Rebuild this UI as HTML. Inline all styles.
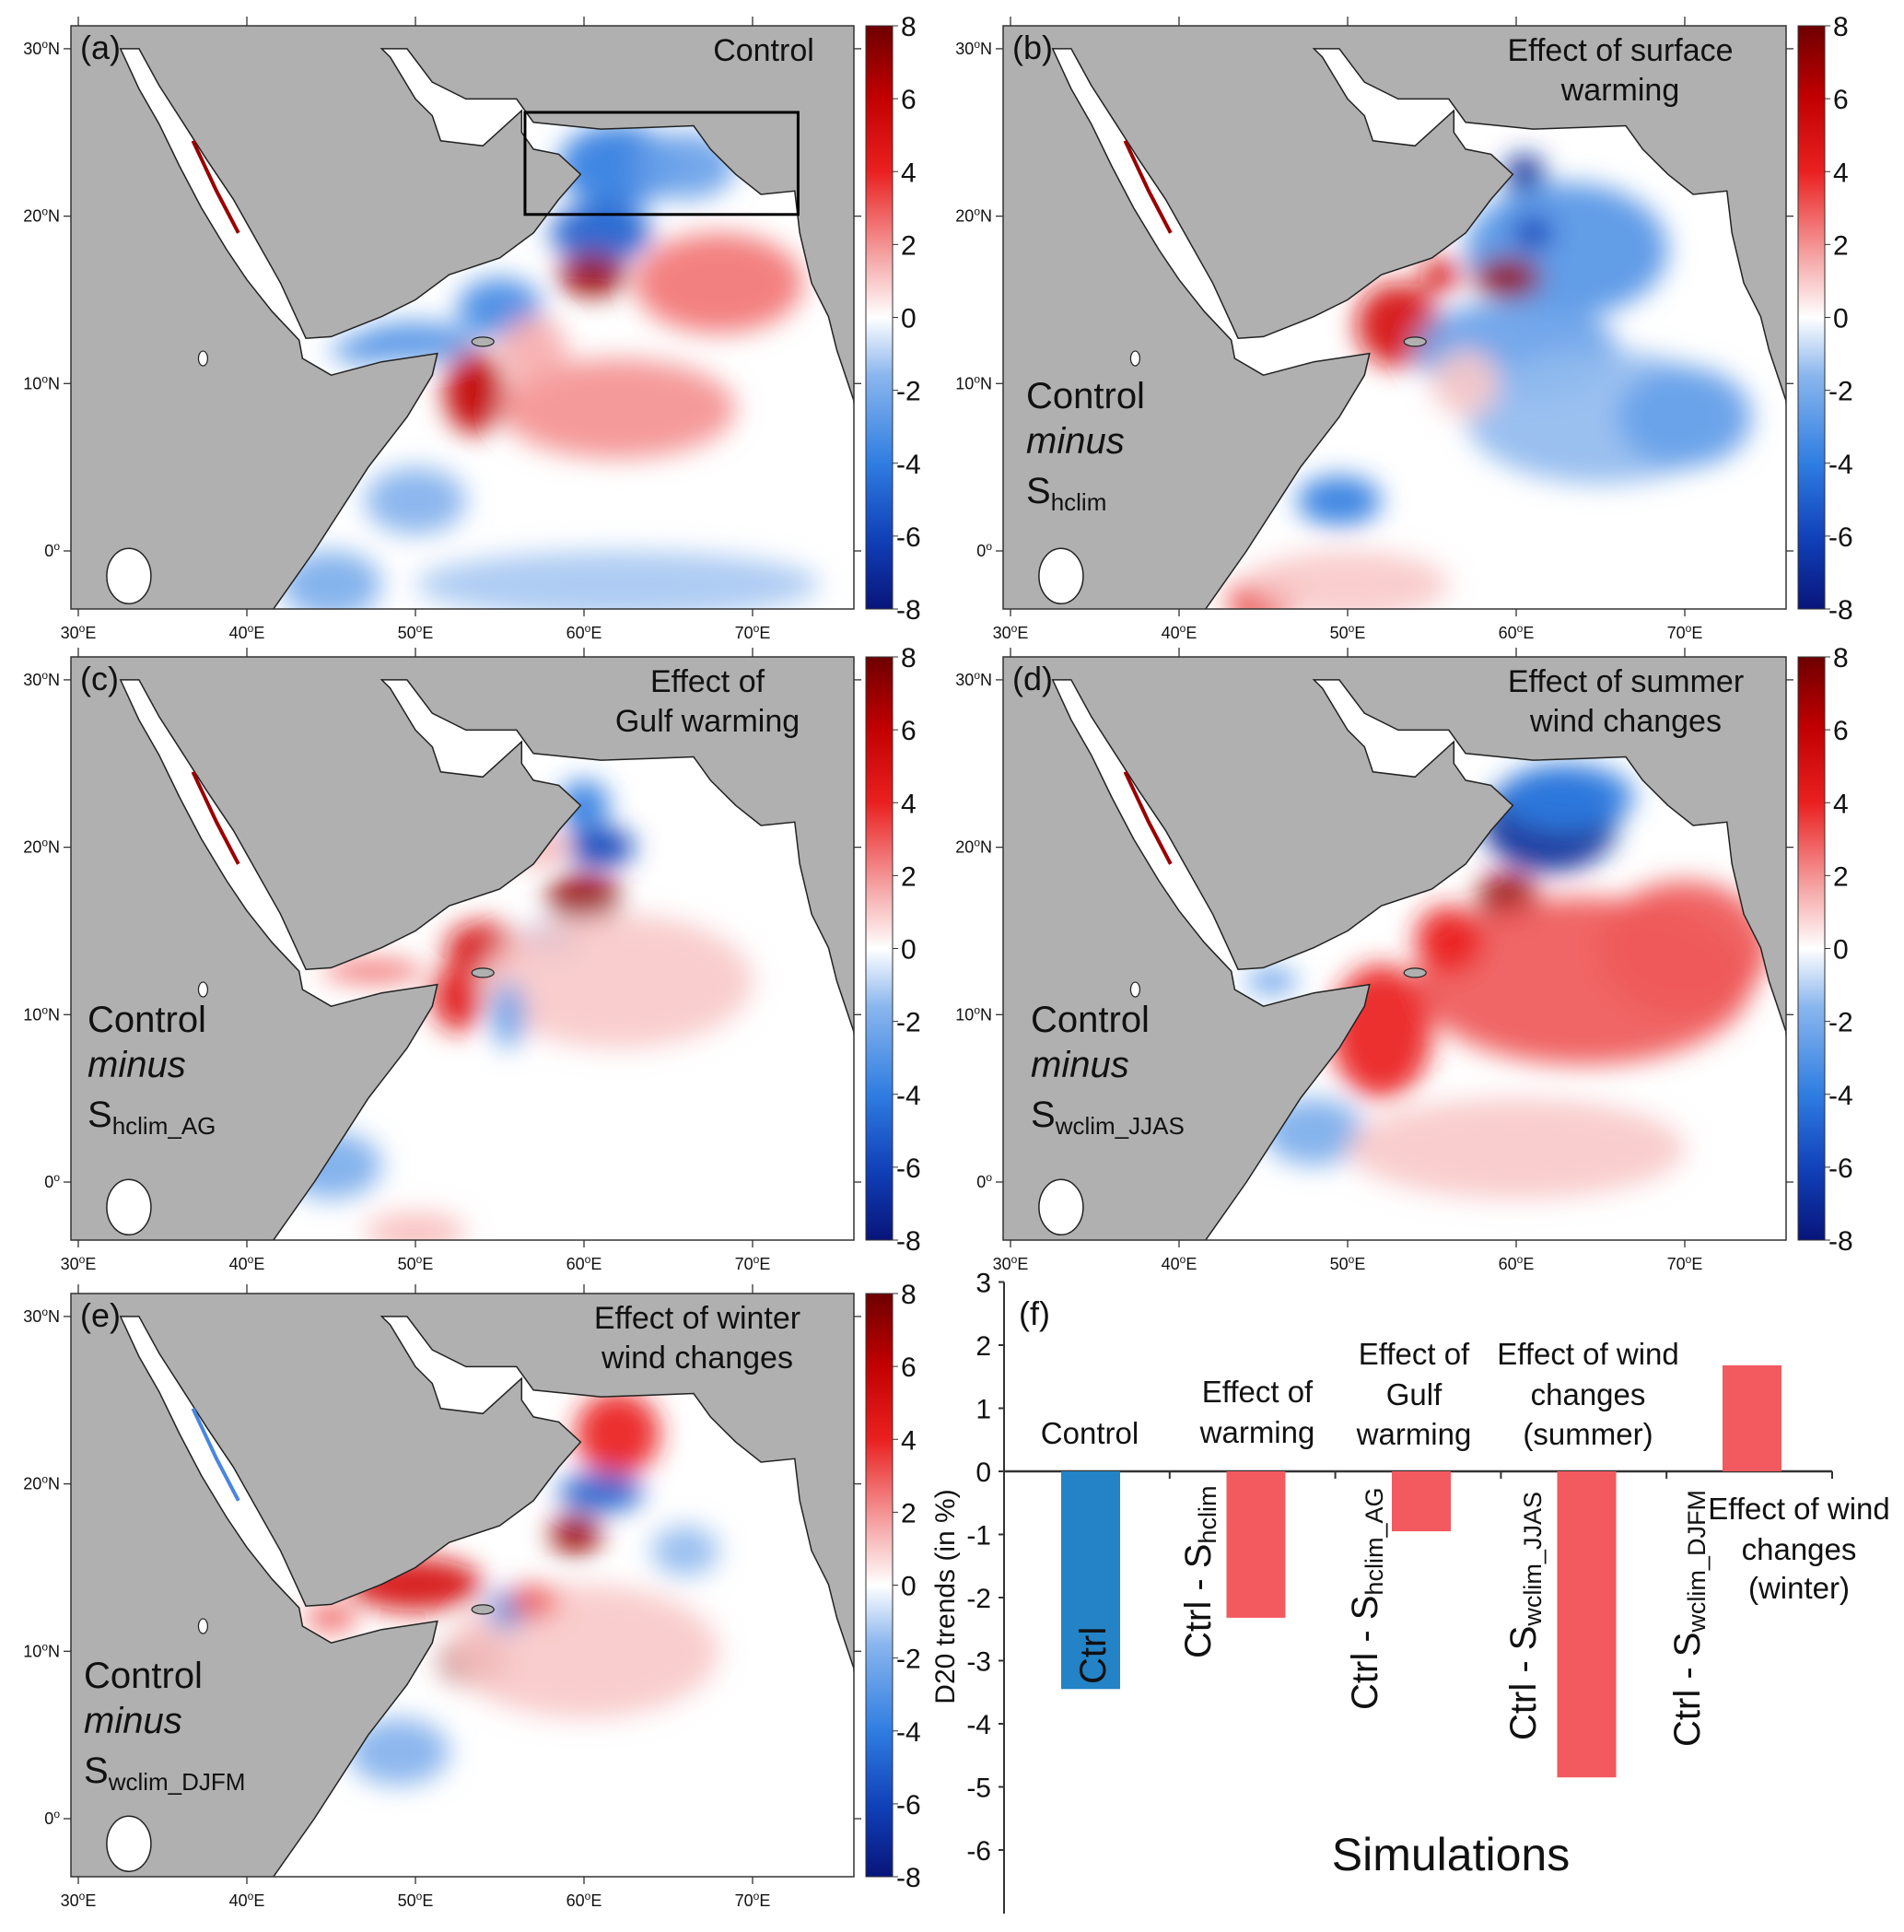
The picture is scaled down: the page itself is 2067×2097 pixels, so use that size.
<!DOCTYPE html>
<html><head><meta charset="utf-8"><style>
html,body{margin:0;padding:0;background:#fff;}
svg{display:block;font-family:"Liberation Sans",sans-serif;}
.nar{font-family:"Liberation Sans Narrow","Liberation Sans",sans-serif;}
</style></head><body>
<svg id="fig" width="2067" height="2097" viewBox="0 0 2067 2097" xmlns="http://www.w3.org/2000/svg">
<defs>
<linearGradient id="cmap" x1="0" y1="1" x2="0" y2="0">
<stop offset="0" stop-color="#08157a"/><stop offset="0.12" stop-color="#1040b8"/><stop offset="0.25" stop-color="#2f7de1"/><stop offset="0.4" stop-color="#8ab6ee"/><stop offset="0.5" stop-color="#ffffff"/><stop offset="0.6" stop-color="#f6a8a8"/><stop offset="0.75" stop-color="#ea2020"/><stop offset="0.88" stop-color="#c00000"/><stop offset="1" stop-color="#6e0000"/>
</linearGradient>
<filter id="blur" x="-50%" y="-50%" width="200%" height="200%"><feGaussianBlur stdDeviation="14"/></filter>
</defs>
</svg>
<script>
// ---- bar chart data (panel f) ----
const barCategories = ["Ctrl","Ctrl - S_hclim","Ctrl - S_hclim_AG","Ctrl - S_wclim_JJAS","Ctrl - S_wclim_DJFM"];
const barValues = [-3.45, -2.32, -0.95, -4.85, 1.68];
const barTicks = [3,2,1,0,-1,-2,-3,-4,-5,-6];
const cbTicks = [8,6,4,2,0,-2,-4,-6,-8];
const lonTicks = [30,40,50,60,70];
const latTicks = [30,20,10,0];
// ---- map anomaly blobs: lon, lat, radii (deg), value ----
const aLon=[62,61,60.5,68,55,50,53.5,62,50,62,66,47,57,45];
const aLat=[23,19,16.5,16,14.5,12.5,9.5,8.5,3,-2,23,12,12,-2];
const aRx=[3.5,3,2,5,2.5,3.5,1.8,7,3,12,3,2,2,3];
const aRy=[2.5,1.8,1.3,3,1.8,1.2,2.5,3,2,2,2,0.8,2,2];
const aVal=[-4,-5,7,2.5,-3.5,-3,6,2,-1.8,-1.2,-2.5,-3,1.5,-2];
const bLon=[60.5,63,59.5,53,60,49.5,65,45,55.5,61,50,70,57];
const bLat=[22.5,18,16.3,13.5,12,3,8,-3,16.5,19,-2,8,10];
const bRx=[1.2,6,2,2.5,6,2.5,8,2,1.2,1.2,6,4,2];
const bRy=[1.2,4,1.2,2.5,3,1.5,4,1.5,1,1,2,3,2];
const bVal=[-7,-3,7,5,-2.5,-4,-1.5,4,5,-6,1,-2.5,1];
const cLon=[60,61,60,54,58,52.5,62,45,50,47.5,57,55.5];
const cLat=[22.5,20,17,14,14.5,11,12,1,-3,12.6,20,10];
const cRx=[1.5,2,2.2,2.2,1.8,1.5,8,3,3,3,2,1];
const cRy=[1.5,1.2,1.4,1.5,1,2,4,2,1.2,0.6,1,2];
const cVal=[-4,-6,7,5,-4,4.5,1,-2,1.2,3,1.5,-2.5];
const dLon=[62,63,59.5,64,52,48,60,45.5,56,70];
const dLat=[21.5,23,17,12,9,3,2,12,14.5,14];
const dRx=[4,4,1.8,10,3,3,10,1.5,2,5];
const dRy=[3,2,1.5,5,4,2,3,0.7,2,4];
const dVal=[-7,-4,7,3,4,-2,1,-3,4,3];
const eLon=[62,61,59.5,50,53.5,49,60,45,66,55.5,57];
const eLat=[23,19.5,17,14,9.5,4,10,12,16,12.5,13];
const eRx=[2.5,2.5,1.5,4,2,3,8,1.5,2,1.2,1.5];
const eRy=[2.5,1.2,1.2,1.6,1.6,2,4,0.8,1.5,1.2,1];
const eVal=[4,-5,7,5,7,-1.8,1,3,-1.5,-3,3];

const NS="http://www.w3.org/2000/svg";
const svg=document.getElementById('fig');
function mk(tag,attrs,parent){const e=document.createElementNS(NS,tag);for(const k in attrs)e.setAttribute(k,attrs[k]);(parent||svg).appendChild(e);return e;}
function colorOf(v){
  const stops=[[-8,[8,21,122]],[-6,[16,64,184]],[-4,[47,125,225]],[-1.6,[138,182,238]],[0,[255,255,255]],[1.6,[246,168,168]],[4,[234,32,32]],[6,[192,0,0]],[8,[110,0,0]]];
  for(let i=0;i<stops.length-1;i++){const a=stops[i],b=stops[i+1];if(v<=b[0]){const t=Math.max(0,(v-a[0])/(b[0]-a[0]));const c=a[1].map((x,j)=>Math.round(x+(b[1][j]-x)*t));return 'rgb('+c.join(',')+')';}}
  return 'rgb(110,0,0)';
}
const W=850,H=633;
function lx(lon){return 8+(lon-30)*18.3;}
function ly(lat){return 570-lat*18.17;}
const coast=[[41.2,-4],[44,0],[47.2,5],[49.5,8],[51,10.5],[51.3,11.8],[48,11.3],[45,10.5],[43.3,11.5],[43.1,12.6],[41.5,14.3],[40,16.2],[38.8,18],[37.3,20.5],[36,23],[34.8,25.5],[33.6,27.6],[32.5,30],[33.6,30],[34.8,27.8],[36.2,25.6],[37.6,23.4],[39.2,21],[40.6,18.5],[42,16],[43.5,12.7],[45,12.8],[48,14],[50,15],[52,16.5],[55,17.5],[57,19],[58.5,21],[59.8,22.5],[58.5,23.7],[57,24],[56.3,25],[56.3,26.3],[54,24.2],[51.5,24.5],[51,26],[50,27],[48.5,29.5],[48,30],[49.5,30],[51,28],[53,27],[56,27],[57,25.6],[61,25.2],[64,25.3],[66.5,25.4],[67.5,24],[69,22.5],[70.5,21.3],[72.5,21.5],[72.8,19],[73.5,16],[74.5,14],[75,12],[76,9],[77,-4]];
const coastD='M'+coast.map(p=>lx(p[0]).toFixed(1)+','+ly(p[1]).toFixed(1)).join(' L')+' Z';

function buildMap(ox,oy,label,lons,lats,rxs,rys,vals,titleAnchorX,titleLines,sub,subPos,boxed,idx){
  const g=mk('g',{transform:'translate('+ox+','+oy+')'});
  
  
  mk('rect',{x:0,y:0,width:W,height:H,fill:'#b0b0b0'},g);
  const cp=mk('clipPath',{id:'clip'+idx},g);mk('path',{d:coastD},cp);
  const cp2=mk('clipPath',{id:'frame'+idx},g);mk('rect',{x:0,y:0,width:W,height:H},cp2);
  const inner=mk('g',{'clip-path':'url(#frame'+idx+')'},g);
  const ocean=mk('path',{d:coastD,fill:'#ffffff'},inner);
  
  
  const blobs=mk('g',{'clip-path':'url(#clip'+idx+')'},inner);
  const bg=mk('g',{filter:'url(#blur)'},blobs);
  for(let i=0;i<lons.length;i++){
    const e=mk('ellipse',{cx:lx(lons[i]),cy:ly(lats[i]),rx:rxs[i]*18.3,ry:rys[i]*18.17,fill:colorOf(vals[i]),opacity:0.92},bg);
    
    
  }
  mk('path',{d:coastD,fill:'none',stroke:'#222','stroke-width':1.5},inner);
  mk('path',{d:'M'+lx(36.8)+','+ly(24.5)+' L'+lx(38.2)+','+ly(21.5)+' L'+lx(39.5)+','+ly(19),stroke:idx==4?'#4a86e0':'#9a0000','stroke-width':4,fill:'none'},inner);
  mk('ellipse',{cx:lx(33),cy:ly(-1.5),rx:24,ry:30,fill:'#fff',stroke:'#222','stroke-width':1.5},inner);
  mk('ellipse',{cx:lx(37.4),cy:ly(11.5),rx:5,ry:8,fill:'#fff',stroke:'#222','stroke-width':1.2},inner);
  mk('ellipse',{cx:lx(39.7),cy:ly(-5.5),rx:5,ry:22,fill:'#fff',stroke:'#222','stroke-width':1.2},inner);
  mk('ellipse',{cx:lx(54),cy:ly(12.5),rx:12,ry:5,fill:'#b0b0b0',stroke:'#222','stroke-width':1.2},inner);
  if(boxed){const b=mk('rect',{x:lx(56.5),y:ly(26.2),width:lx(72.7)-lx(56.5),height:ly(20.1)-ly(26.2),fill:'none',stroke:'#000','stroke-width':3},g);}
  mk('rect',{x:0,y:0,width:W,height:H,fill:'none',stroke:'#333','stroke-width':1.5},g);
  lonTicks.forEach(l=>{
    mk('line',{x1:lx(l),x2:lx(l),y1:-10,y2:0,stroke:'#333','stroke-width':1.3},g);
    mk('line',{x1:lx(l),x2:lx(l),y1:H,y2:H+8,stroke:'#333','stroke-width':1.3},g);
    const t=mk('text',{x:lx(l),y:H+32,'font-size':18,'text-anchor':'middle',fill:'#111'},g);
    t.innerHTML=l+'<tspan dy="-7" font-size="12">o</tspan><tspan dy="7">E</tspan>';
    
  });
  latTicks.forEach(l=>{
    mk('line',{x1:-8,x2:0,y1:ly(l),y2:ly(l),stroke:'#333','stroke-width':1.3},g);
    mk('line',{x1:W,x2:W+8,y1:ly(l),y2:ly(l),stroke:'#333','stroke-width':1.3},g);
    const t=mk('text',{x:-12,y:ly(l)+6,'font-size':18,'text-anchor':'end',fill:'#111'},g);
    t.innerHTML=l+'<tspan dy="-7" font-size="12">o</tspan><tspan dy="7">'+(l==0?'':'N')+'</tspan>';
    
  });
  const pl=mk('text',{x:10,y:36,'font-size':36,fill:'#111'},g);pl.textContent='('+label+')';
  
  titleLines.forEach((s,i)=>{const t=mk('text',{x:titleAnchorX,y:38+i*43,'font-size':34,'text-anchor':'middle',fill:'#111'},g);t.textContent=s;});
  if(sub){
    const t1=mk('text',{x:subPos[0],y:subPos[1],'font-size':40,fill:'#111'},g);t1.textContent='Control';
    const t2=mk('text',{x:subPos[0],y:subPos[1]+49,'font-size':40,'font-style':'italic',fill:'#111'},g);t2.textContent='minus';
    const t3=mk('text',{x:subPos[0],y:subPos[1]+103,'font-size':40,fill:'#111'},g);t3.innerHTML='S<tspan font-size="26" dy="8">'+sub+'</tspan>';
  }
  const cb=mk('g',{transform:'translate('+(W+13)+',0)'},g);
  
  
  mk('rect',{x:0,y:0,width:29,height:H,fill:'url(#cmap)',stroke:'#333','stroke-width':1},cb);
  cbTicks.forEach((v,i)=>{const y=H*(8-v)/16;mk('line',{x1:29,x2:35,y1:y,y2:y,stroke:'#333'},cb);
    const t=mk('text',{x:v<0?33:38,y:y+11,'font-size':30,fill:'#111'},cb);t.textContent=v;});
}
buildMap(77,28,'a',aLon,aLat,aRx,aRy,aVal,752,['Control'],null,null,true,0);
buildMap(1089,28,'b',bLon,bLat,bRx,bRy,bVal,670,['Effect of surface','warming'],'hclim',[25,415],false,1);
buildMap(77,713,'c',cLon,cLat,cRx,cRy,cVal,691,['Effect of','Gulf warming'],'hclim_AG',[18,407],false,2);
buildMap(1089,713,'d',dLon,dLat,dRx,dRy,dVal,676,['Effect of summer','wind changes'],'wclim_JJAS',[30,407],false,3);
buildMap(77,1404,'e',eLon,eLat,eRx,eRy,eVal,680,['Effect of winter','wind changes'],'wclim_DJFM',[14,428],false,4);

// ---- bar chart ----
const axX=1090, y0=1597, unit=68.5, groupW=179.5, barW=64;
function by(v){return y0-v*unit;}
function bx(i){return 1152+i*groupW;}
const fg=mk('g',{});


mk('line',{x1:axX,x2:axX,y1:by(3),y2:2077,stroke:'#333','stroke-width':2},fg);
mk('line',{x1:axX,x2:1989,y1:y0,y2:y0,stroke:'#333','stroke-width':2.5},fg);
barTicks.forEach(v=>{mk('line',{x1:axX-6,x2:axX,y1:by(v),y2:by(v),stroke:'#333','stroke-width':2},fg);
  const t=mk('text',{x:1076,y:by(v)+11,'font-size':30,'text-anchor':'end',fill:'#111',class:'nar'},fg);t.textContent=v;});
for(let i=1;i<=5;i++){mk('line',{x1:axX+i*179.8,x2:axX+i*179.8,y1:y0,y2:y0+8,stroke:'#333','stroke-width':2},fg);}
barValues.forEach((v,i)=>{
  const r=mk('rect',{x:bx(i),y:Math.min(by(v),y0),width:barW,height:Math.abs(by(v)-y0),fill:i==0?'#2383c6':'#f25a5f'},fg);
  
  
});
const labelX=[1186,1300,1481,1653,1831];
const labelY=[1828,1800,1856,1889,1896];
barCategories.forEach((c,i)=>{
  const t=mk('text',{transform:'translate('+(labelX[i]+14)+','+labelY[i]+') rotate(-90)','font-size':40,fill:'#111'},fg);
  if(i==0)t.textContent='Ctrl';
  else{const p=c.split(' - S_');t.innerHTML='Ctrl - S<tspan font-size="27" dy="6">'+p[1]+'</tspan>';}
  
});
const groupTitles=[[1183,[1555],['Control']],[1365,[1510,1554],['Effect of','warming']],[1535,[1469,1513,1556],['Effect of','Gulf','warming']],[1724,[1469,1513,1556],['Effect of wind','changes','(summer)']],[1953,[1637,1681,1723],['Effect of wind','changes','(winter)']]];
groupTitles.forEach(gt=>gt[2].forEach((s,j)=>{const t=mk('text',{x:gt[0],y:gt[1][j]+12,'font-size':33,'text-anchor':'middle',fill:'#111',class:'nar'},fg);t.textContent=s;}));
const fl=mk('text',{x:1106,y:1438,'font-size':36,fill:'#111',class:'nar'},fg);fl.textContent='(f)';
const xt=mk('text',{x:1575,y:2030,'font-size':50,'text-anchor':'middle',fill:'#111',class:'nar'},fg);xt.textContent='Simulations';
const yt=mk('text',{transform:'translate(1036,1733) rotate(-90)','font-size':30,'text-anchor':'middle',fill:'#111'},fg);yt.textContent='D20 trends (in %)';
</script>
</body></html>
